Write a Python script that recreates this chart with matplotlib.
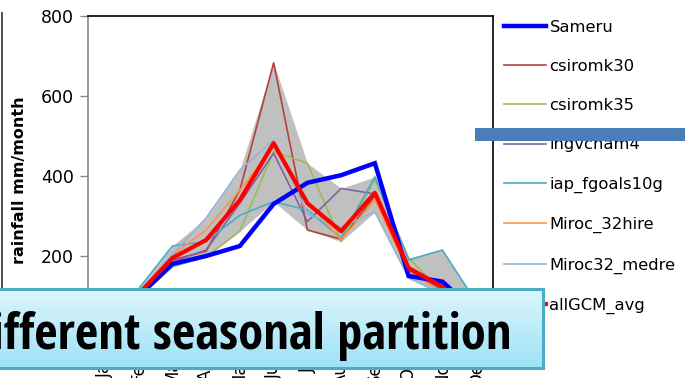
import numpy as np
import matplotlib
matplotlib.use("Agg")
import matplotlib.pyplot as plt
from matplotlib import font_manager
from matplotlib.lines import Line2D
from matplotlib.patches import Rectangle

# Monthly rainfall (mm/month)
months = ["Jan", "Feb", "Mar", "Apr", "May", "Jun",
          "Jul", "Aug", "Sep", "Oct", "Nov", "Dec"]
sameru        = [40, 100, 180, 200, 225, 330, 383, 402, 432, 150, 136, 60]
csiromk30     = [45, 100, 190, 212, 365, 683, 265, 242, 350, 165, 115, 50]
csiromk35     = [40, 95, 173, 198, 262, 461, 432, 236, 392, 195, 110, 55]
ingvcham4     = [45, 100, 185, 215, 332, 457, 286, 369, 355, 165, 115, 55]
iap_fgoals10g = [45, 118, 225, 236, 302, 336, 315, 245, 398, 190, 215, 85]
miroc_32hire  = [45, 105, 202, 265, 365, 472, 336, 240, 340, 160, 110, 50]
miroc32_medre = [45, 105, 205, 295, 415, 490, 305, 272, 310, 145, 105, 50]
allgcm_avg    = [45, 105, 195, 240, 340, 482, 332, 262, 358, 170, 123, 55]

gcm_series = [
    ("csiromk30", csiromk30, "#B5413E"),
    ("csiromk35", csiromk35, "#9BBB59"),
    ("ingvcham4", ingvcham4, "#8064A2"),
    ("iap_fgoals10g", iap_fgoals10g, "#4BACC6"),
    ("Miroc_32hire", miroc_32hire, "#F79646"),
    ("Miroc32_medre", miroc32_medre, "#95B3D7"),
]


def condensed_bold_font():
    """Pick a bold narrow/condensed face if one is installed."""
    cands = []
    for f in font_manager.fontManager.ttflist:
        nm = (f.name + " " + str(f.fname)).lower()
        narrow = ("narrow" in nm or "condensed" in nm
                  or str(f.stretch) in ("condensed", "semi-condensed", "extra-condensed")
                  or (isinstance(f.stretch, int) and f.stretch < 500))
        bold = (f.weight in ("bold", "semibold", "demibold", "heavy", "black")
                or (isinstance(f.weight, int) and f.weight >= 600))
        if narrow and bold and "italic" not in nm and f.style == "normal":
            cands.append(f)
    if not cands:
        return None
    order = ["liberation sans narrow", "arial narrow", "noto sans", "open sans",
             "roboto", "dejavu sans"]
    cands.sort(key=lambda f: next((i for i, o in enumerate(order)
                                   if f.name.lower().startswith(o)), 99))
    return font_manager.FontProperties(fname=cands[0].fname)


W, H = 685, 378
fig = plt.figure(figsize=(W / 100, H / 100), dpi=100)
fig.patch.set_facecolor("white")

ax_l, ax_r, ax_t, ax_b = 88, 493, 16, 336
ax = fig.add_axes([ax_l / W, 1 - ax_b / H, (ax_r - ax_l) / W, (ax_b - ax_t) / H])

x = np.arange(len(months))
stack = np.array([s for _, s, _ in gcm_series])
ax.fill_between(x, stack.min(axis=0), stack.max(axis=0),
                color="#C0C0C0", lw=0, zorder=1)

handles = []
h, = ax.plot(x, sameru, color="#0000FF", lw=3.2, zorder=3, label="Sameru",
             solid_joinstyle="miter")
handles.append(h)
for name, vals, col in gcm_series:
    h, = ax.plot(x, vals, color=col, lw=1.2, zorder=2, label=name)
    handles.append(h)
h, = ax.plot(x, allgcm_avg, color="#FF0000", lw=3.0, zorder=4, label="allGCM_avg")
handles.append(h)

ax.set_xlim(-0.5, len(months) - 0.5)
ax.set_ylim(0, 800)
ax.set_yticks([200, 400, 600, 800])
ax.set_xticks(x)
ax.set_xticklabels(months, rotation=90, fontsize=12)
ax.tick_params(axis="y", direction="out", length=6, width=1, color="#868686",
               labelsize=12.5, pad=4)
ax.tick_params(axis="x", length=0, pad=12)

for side in ("top", "right"):
    ax.spines[side].set_color("black")
    ax.spines[side].set_linewidth(1.2)
for side in ("left", "bottom"):
    ax.spines[side].set_color("#868686")
    ax.spines[side].set_linewidth(1.2)

fig.text(20 / W, 1 - 180 / H, "rainfall mm/month", rotation=90,
         ha="center", va="center", fontsize=11.5, fontweight="bold")

leg = fig.legend(handles=handles, loc="upper left",
                 bbox_to_anchor=(497 / W, 1 - 13 / H),
                 frameon=False, fontsize=11.8, handlelength=2.6,
                 handletextpad=0.2, labelspacing=1.48, borderaxespad=0)

# thin slide frame on the far left
fig.add_artist(Line2D([1.5 / W, 1.5 / W], [1 - 13 / H, 1 - 290 / H],
                      color="#404040", lw=1.3))

# blue accent bar
fig.add_artist(Rectangle((475 / W, 1 - 141 / H), (W - 475) / W, 13 / H,
                         transform=fig.transFigure, color="#4A7EBB", lw=0,
                         zorder=10))

# caption box with a light cyan gradient
bx0, bx1, by0, by1 = -4, 543, 289, 368
bax = fig.add_axes([bx0 / W, 1 - by1 / H, (bx1 - bx0) / W, (by1 - by0) / H],
                   zorder=20)
grad = np.linspace(0, 1, 64).reshape(-1, 1)
top = np.array([0xDC, 0xF6, 0xFD]) / 255
bot = np.array([0x9E, 0xE2, 0xF6]) / 255
img = top[None, None, :] * (1 - grad[:, :, None]) + bot[None, None, :] * grad[:, :, None]
bax.imshow(img, aspect="auto", extent=(0, 1, 0, 1), origin="upper")
bax.set_xlim(0, 1)
bax.set_ylim(0, 1)
bax.set_xticks([])
bax.set_yticks([])
for s in bax.spines.values():
    s.set_color("#4BACC6")
    s.set_linewidth(2.2)

caption = "Different seasonal partition"
cfont = condensed_bold_font()
if cfont is not None:
    cfont.set_size(36.5)
    fig.text(512 / W, 1 - 349 / H, caption, ha="right", va="baseline",
             fontproperties=cfont, zorder=30)
else:
    fig.text(512 / W, 1 - 349 / H, caption, ha="right", va="baseline",
             fontsize=30, fontweight="bold", family="Liberation Sans", zorder=30)

fig.savefig("out.png", dpi=100)
